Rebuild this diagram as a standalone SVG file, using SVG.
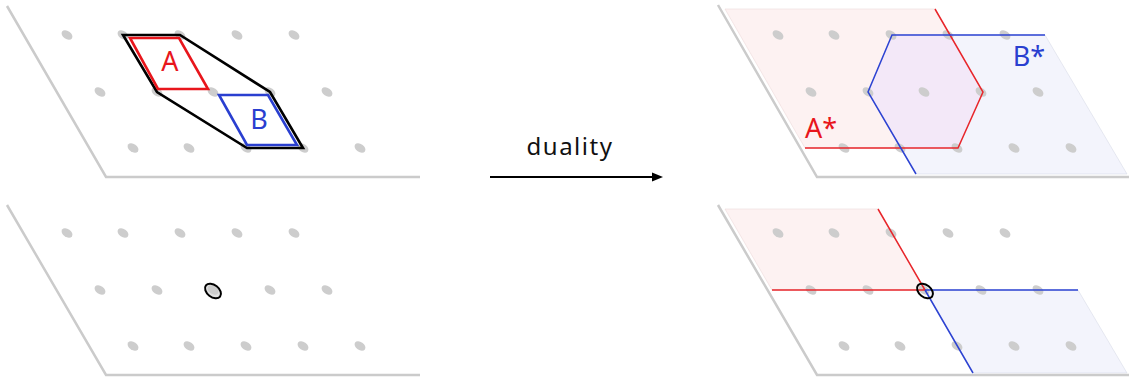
<svg xmlns="http://www.w3.org/2000/svg" width="1129" height="380" viewBox="0 0 1129 380">
<defs>
<style>
.plane{fill:none;stroke:#cbcbcb;stroke-width:2.5}
.dot{fill:#cdcdcd}
.red{fill:none;stroke:#e8161c;stroke-width:2.6;stroke-linejoin:miter}
.blue{fill:none;stroke:#2a3fd0;stroke-width:2.6}
.redt{fill:none;stroke:#e8262b;stroke-width:1.5}
.bluet{fill:none;stroke:#2d43d2;stroke-width:1.5}
.hull{fill:none;stroke:#000;stroke-width:2.6;stroke-linejoin:miter}
.rfill{fill:#fdf2f2;stroke:#ecdada;stroke-width:0.6}
.bfill{fill:#f3f4fc;stroke:#d8dbe8;stroke-width:0.6}
.ofill{fill:#f3e8f8}
.lbl{font-family:"Noto Sans","DejaVu Sans",sans-serif;font-size:27px;text-anchor:middle}
.hl{fill:#cdcdcd;fill-opacity:0.6;stroke:#000;stroke-width:2}
</style>
<g id="lattice">
<ellipse class="dot" cx="67" cy="35" rx="6" ry="4" transform="rotate(35 67 35)"/>
<ellipse class="dot" cx="123" cy="35" rx="6" ry="4" transform="rotate(35 123 35)"/>
<ellipse class="dot" cx="180" cy="35" rx="6" ry="4" transform="rotate(35 180 35)"/>
<ellipse class="dot" cx="237" cy="35" rx="6" ry="4" transform="rotate(35 237 35)"/>
<ellipse class="dot" cx="294" cy="35" rx="6" ry="4" transform="rotate(35 294 35)"/>
<ellipse class="dot" cx="100" cy="92" rx="6" ry="4" transform="rotate(35 100 92)"/>
<ellipse class="dot" cx="157" cy="92" rx="6" ry="4" transform="rotate(35 157 92)"/>
<ellipse class="dot" cx="213" cy="92" rx="6" ry="4" transform="rotate(35 213 92)"/>
<ellipse class="dot" cx="270" cy="92" rx="6" ry="4" transform="rotate(35 270 92)"/>
<ellipse class="dot" cx="327" cy="92" rx="6" ry="4" transform="rotate(35 327 92)"/>
<ellipse class="dot" cx="133" cy="148" rx="6" ry="4" transform="rotate(35 133 148)"/>
<ellipse class="dot" cx="189" cy="148" rx="6" ry="4" transform="rotate(35 189 148)"/>
<ellipse class="dot" cx="246" cy="148" rx="6" ry="4" transform="rotate(35 246 148)"/>
<ellipse class="dot" cx="303" cy="148" rx="6" ry="4" transform="rotate(35 303 148)"/>
<ellipse class="dot" cx="360" cy="148" rx="6" ry="4" transform="rotate(35 360 148)"/>
</g>
</defs>

<g id="panel-top-left">
<path class="plane" d="M7,6 L106,177 L420,177"/>
<use href="#lattice"/>
<polygon class="hull" points="123,35 180,35 270,92 303,148 247,148 157,92"/>
<polygon class="red" points="130,38 179,38 208,89 158,89"/>
<polygon class="blue" points="219,95 268,95 297,145 247,145"/>
<text class="lbl" x="170" y="71" fill="#e8161c">A</text>
<text class="lbl" x="259" y="129" fill="#2a3fd0">B</text>
</g>

<g id="panel-bottom-left">
<path class="plane" d="M7,205 L106,375 L420,375"/>
<use href="#lattice" transform="translate(0,198)"/>
<ellipse class="hl" cx="213" cy="291" rx="9" ry="6" transform="rotate(38 213 291)"/>
</g>

<g id="panel-top-right">
<polygon class="rfill" points="725,9 935,9 983,92 958,148 805,148"/>
<polygon class="bfill" points="892,35 1045,35 1127,174 916,174 868,92"/>
<polygon class="ofill" points="892,35 950,35 983,92 958,148 901,148 868,92"/>
<path class="plane" d="M718,5 L817,177 L1129,177"/>
<use href="#lattice" transform="translate(711,0)"/>
<path class="redt" d="M935,9 L983,92 L958,148 L805,148"/>
<path class="bluet" d="M1045,35 L892,35 L868,92 L916,174"/>
<text class="lbl" x="821" y="138" fill="#e8161c">A*</text>
<text class="lbl" x="1029" y="66" fill="#2a3fd0">B*</text>
</g>

<g id="panel-bottom-right">
<polygon class="rfill" points="725,209 878,209 925,290 772,290"/>
<polygon class="bfill" points="925,290 1078,290 1127,373 973,373"/>
<path class="plane" d="M718,205 L817,375 L1129,375"/>
<use href="#lattice" transform="translate(711,198)"/>
<path class="redt" d="M878,209 L925,290 L772,290"/>
<path class="bluet" d="M925,290 L1078,290 M925,290 L973,373"/>
<ellipse class="hl" cx="925" cy="291" rx="9" ry="6" style="fill:none" transform="rotate(38 925 291)"/>
</g>

<g id="connectors">
<line x1="490" y1="177" x2="655" y2="177" stroke="#000" stroke-width="2"/>
<polygon points="663,177 652,172.5 652,181.5" fill="#000"/>
<text class="lbl" x="570" y="155" fill="#111" font-size="24" style="font-size:24px" letter-spacing="1.5">duality</text>
</g>
</svg>
